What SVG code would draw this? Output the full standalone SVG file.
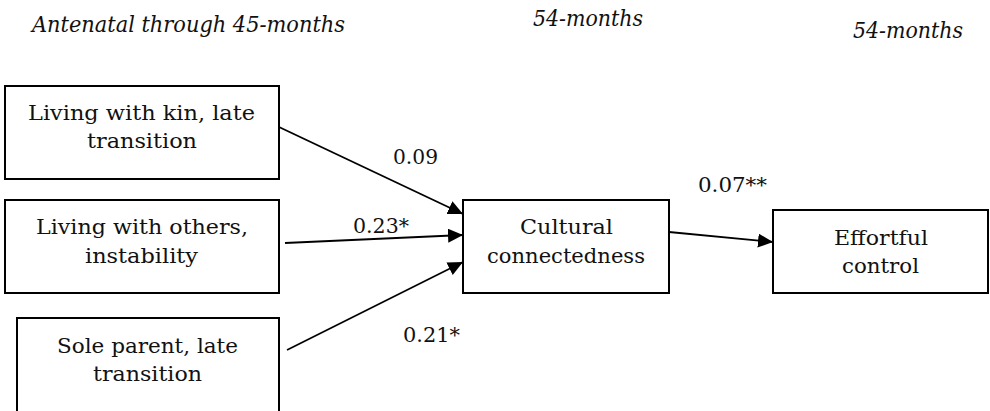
<svg xmlns="http://www.w3.org/2000/svg" width="990" height="411" viewBox="0 0 990 411">
<style>
.box{fill:#fff;stroke:#000;stroke-width:2}
.t{font-family:'DejaVu Serif','Liberation Serif',serif;font-size:21px;fill:#111}
.h{font-family:'DejaVu Serif Condensed','DejaVu Serif',serif;font-size:23px;font-style:italic;fill:#111}
.c{stroke:#000;stroke-width:1.8;fill:none;marker-end:url(#ah)}
</style>
<defs>
<marker id="ah" markerUnits="userSpaceOnUse" markerWidth="16" markerHeight="14" refX="15" refY="7" orient="auto">
<path d="M0,0 L15,7 L0,14 Z" fill="#000"/>
</marker>
</defs>
<rect width="990" height="411" fill="#fff"/>
<g id="headers">
<text class="h" x="32" y="32" textLength="313" lengthAdjust="spacingAndGlyphs">Antenatal through 45-months</text>
<text class="h" x="533" y="26" textLength="110" lengthAdjust="spacingAndGlyphs">54-months</text>
<text class="h" x="853" y="38" textLength="110" lengthAdjust="spacingAndGlyphs">54-months</text>
</g>
<g id="connectors">
<line class="c" x1="279" y1="127" x2="463" y2="214"/>
<line class="c" x1="285" y1="243" x2="463" y2="235"/>
<line class="c" x1="287" y1="350" x2="463" y2="262"/>
<line class="c" x1="669" y1="232" x2="773" y2="242"/>
<text class="t" x="393" y="164" textLength="45" lengthAdjust="spacingAndGlyphs">0.09</text>
<text class="t" x="353" y="233" textLength="56" lengthAdjust="spacingAndGlyphs">0.23*</text>
<text class="t" x="403" y="342" textLength="57" lengthAdjust="spacingAndGlyphs">0.21*</text>
<text class="t" x="698" y="192" textLength="69" lengthAdjust="spacingAndGlyphs">0.07**</text>
</g>
<g id="kin">
<rect class="box" x="5" y="86" width="274" height="93"/>
<text class="t" x="28" y="120" textLength="227" lengthAdjust="spacingAndGlyphs">Living with kin, late</text>
<text class="t" x="87" y="148" textLength="110" lengthAdjust="spacingAndGlyphs">transition</text>
</g>
<g id="others">
<rect class="box" x="5" y="200" width="274" height="93"/>
<text class="t" x="36" y="234" textLength="212" lengthAdjust="spacingAndGlyphs">Living with others,</text>
<text class="t" x="85" y="263" textLength="113" lengthAdjust="spacingAndGlyphs">instability</text>
</g>
<g id="sole">
<rect class="box" x="17" y="318" width="262" height="100"/>
<text class="t" x="57" y="353" textLength="181" lengthAdjust="spacingAndGlyphs">Sole parent, late</text>
<text class="t" x="93" y="381" textLength="109" lengthAdjust="spacingAndGlyphs">transition</text>
</g>
<g id="cultural">
<rect class="box" x="463" y="200" width="206" height="93"/>
<text class="t" x="520" y="234" textLength="93" lengthAdjust="spacingAndGlyphs">Cultural</text>
<text class="t" x="487" y="263" textLength="158" lengthAdjust="spacingAndGlyphs">connectedness</text>
</g>
<g id="effortful">
<rect class="box" x="773" y="210" width="215" height="83"/>
<text class="t" x="834" y="245" textLength="94" lengthAdjust="spacingAndGlyphs">Effortful</text>
<text class="t" x="842" y="273" textLength="77" lengthAdjust="spacingAndGlyphs">control</text>
</g>
</svg>
